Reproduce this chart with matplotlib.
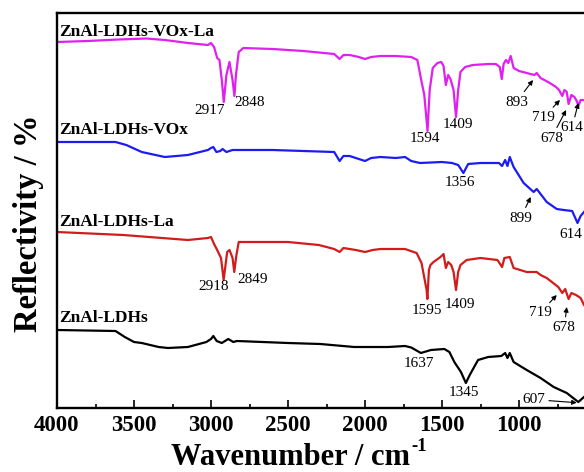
import matplotlib
matplotlib.use('Agg')
from matplotlib import pyplot as plt
from matplotlib.ticker import MultipleLocator
import numpy as np

plt.rcParams['font.family'] = ['Liberation Serif', 'DejaVu Serif']

# spectra (wavenumber, stacked reflectivity in arbitrary units)
wn_voxla = [4000, 3800, 3600, 3420, 3300, 3150, 3020, 3000, 2980, 2960, 2945, 2930, 2917, 2900,
            2880, 2860, 2848, 2838, 2820, 2790, 2600, 2400, 2200, 2165, 2140, 2100, 2040, 2000,
            1960, 1900, 1800, 1700, 1660, 1635, 1615, 1594, 1580, 1560, 1530, 1505, 1490, 1475,
            1460, 1445, 1425, 1409, 1395, 1380, 1350, 1300, 1200, 1150, 1125, 1112, 1100, 1085,
            1070, 1054, 1035, 1000, 950, 900, 885, 860, 800, 760, 740, 719, 705, 690, 678, 660,
            640, 625, 614, 600, 578]
r_voxla = [366, 367, 368.5, 369.5, 368, 365, 363, 365, 361, 350, 348, 328, 306, 333,
           346, 328, 312, 333, 356, 360, 359, 357, 354, 349, 353, 353, 351, 349,
           351, 352, 352, 351, 348, 328, 313, 277, 318, 340, 345, 346, 342, 323,
           333, 329, 318, 291, 318, 336, 341, 343, 344, 344, 341, 329, 344, 348,
           345, 352, 340, 337, 335, 333, 335, 330, 325, 321, 318, 312, 318, 316, 304, 313,
           311, 307, 302, 308, 308]

wn_vox = [4000, 3800, 3620, 3550, 3450, 3300, 3150, 3020, 3000, 2985, 2965, 2940, 2925, 2900,
          2860, 2600, 2400, 2200, 2165, 2140, 2100, 2040, 2000, 1960, 1900, 1800, 1740, 1700,
          1643, 1500, 1435, 1395, 1361, 1330, 1250, 1130, 1110, 1090, 1075, 1060, 1035, 970,
          905, 885, 820, 755, 710, 655, 620, 600, 578]
r_vox = [266, 266, 266, 263, 256, 251, 253, 258, 260, 261, 256, 257, 259, 256,
         258, 258, 257, 256, 247, 252, 252, 249, 247, 250, 251, 250, 251, 247,
         245, 246, 245, 243, 235, 244, 245, 245, 242, 248, 242, 251, 241, 225,
         216, 219, 206, 199, 198, 197, 185, 192, 196]

wn_la = [4000, 3570, 3150, 3020, 3000, 2980, 2960, 2935, 2918, 2895, 2880, 2860, 2849, 2835,
         2820, 2780, 2500, 2300, 2200, 2165, 2140, 2060, 2000, 1950, 1900, 1740, 1665, 1633,
         1600, 1595, 1585, 1575, 1555, 1510, 1490, 1475, 1460, 1440, 1425, 1409, 1395, 1380,
         1340, 1250, 1140, 1110, 1095, 1060, 1035, 950, 885, 860, 820, 745, 719, 700, 678,
         660, 630, 600, 578]
r_la = [176, 173, 168, 170, 171, 164, 158, 150, 128, 156, 158, 150, 136, 153,
        166, 166, 166, 163, 159, 156, 160, 158, 156, 158, 159, 159, 155, 145,
        118, 109, 138, 143, 146, 151, 154, 140, 146, 143, 136, 118, 136, 143,
        148, 150, 148, 141, 150, 151, 140, 136, 136, 133, 130, 121, 115, 119, 109,
        115, 113, 110, 103]

wn_ldh = [4000, 3620, 3560, 3500, 3450, 3340, 3280, 3150, 3030, 3000, 2985, 2963, 2930, 2888,
          2855, 2831, 2500, 2290, 2070, 1850, 1740, 1700, 1637, 1572, 1485, 1452, 1420, 1377,
          1345, 1320, 1266, 1200, 1115, 1090, 1075, 1060, 1035, 950, 860, 775, 690, 615, 578]
r_ldh = [78, 77, 71, 66, 65, 61, 60, 61, 66, 69, 72, 67, 65, 69,
         66, 67, 65, 64, 61, 61, 62, 60.5, 55, 58, 59, 56, 46, 36,
         25, 33, 48, 51, 52, 55, 50, 55, 46, 38, 30, 21, 15, 6, 11]

names = ['ZnAl-LDHs-VOx-La', 'ZnAl-LDHs-VOx', 'ZnAl-LDHs-La', 'ZnAl-LDHs']
colors = ['#e020ee', '#1c1cf2', '#d21c1c', 'black']
name_y = [372, 274, 182, 86]

fig = plt.figure(figsize=(5.84, 4.72), dpi=100)
ax = fig.add_axes([57/584, 64/472, 527/584, 395/472])

curves = [(wn_voxla, r_voxla), (wn_vox, r_vox), (wn_la, r_la), (wn_ldh, r_ldh)]
for (w, r), c, n, ny in zip(curves, colors, names, name_y):
    ax.plot(w, r, color=c, lw=1.6)
    ax.text(3985, ny, n, fontsize=12.5, fontweight='bold', ha='left', va='baseline')

# peak labels without arrows
plain = [(3010, 297, '2917'), (2747, 305.5, '2848'), (1612, 269, '1594'), (1394, 283, '1409'),
         (1386, 226, '1356'),
         (2980, 121.7, '2918'), (2729, 128.3, '2849'), (1597, 98, '1595'), (1383, 103.5, '1409'),
         (1649, 44.7, '1637'), (1357, 15, '1345')]
for x, y, s in plain:
    ax.text(x, y, s, fontsize=11, ha='center', va='center')

# peak labels with arrows: text pos, arrow tip
arrowed = [('893', (1017, 306), (909, 328)), ('719', (842, 290.5), (734, 308)),
           ('678', (790, 270), (694, 298)), ('614', (655, 280.5), (615, 305)),
           ('899', (990, 190), (924, 211)),
           ('719', (863, 95), (755, 113)), ('678', (706, 80.5), (690, 101)),
           ('607', (907, 8.5), (625, 5.3))]
for s, xyt, xy in arrowed:
    ax.annotate(s, xy=xy, xytext=xyt, fontsize=11, ha='center', va='center',
                arrowprops=dict(arrowstyle='-|>', color='k', lw=0.8, mutation_scale=7,
                                shrinkA=1, shrinkB=0))
ax.text(738, 173, '614', fontsize=11, ha='left', va='center')

ax.set_xlim(4000, 578)
ax.set_ylim(0, 395)
ax.xaxis.set_major_locator(MultipleLocator(500))
ax.xaxis.set_minor_locator(MultipleLocator(250))
ax.tick_params(axis='x', which='both', direction='in', top=False, labelsize=16.5, pad=5)
ax.tick_params(axis='x', which='major', length=5.5, width=1.2)
ax.tick_params(axis='x', which='minor', length=2.8, width=1.2)
ax.set_yticks([])
for lab in ax.get_xticklabels():
    lab.set_fontweight('bold')
ax.spines['right'].set_visible(False)
for sp in ['left', 'top', 'bottom']:
    ax.spines[sp].set_linewidth(1.7)

# x label with a plain hyphen superscript
xl = fig.text(171/584, 7/472, 'Wavenumber / cm', fontsize=22, fontweight='bold',
              ha='left', va='baseline')
fig.canvas.draw()
bb = xl.get_window_extent(renderer=fig.canvas.get_renderer())
fig.text(bb.x1/584 + 1/584, 21/472, '-1', fontsize=13.5, fontweight='bold',
         ha='left', va='baseline')
fig.text(29/584, 1 - 223/472, 'Reflectivity / %', fontsize=23.5, fontweight='bold',
         rotation=90, ha='center', va='center')

fig.savefig('out.png', dpi=100)
